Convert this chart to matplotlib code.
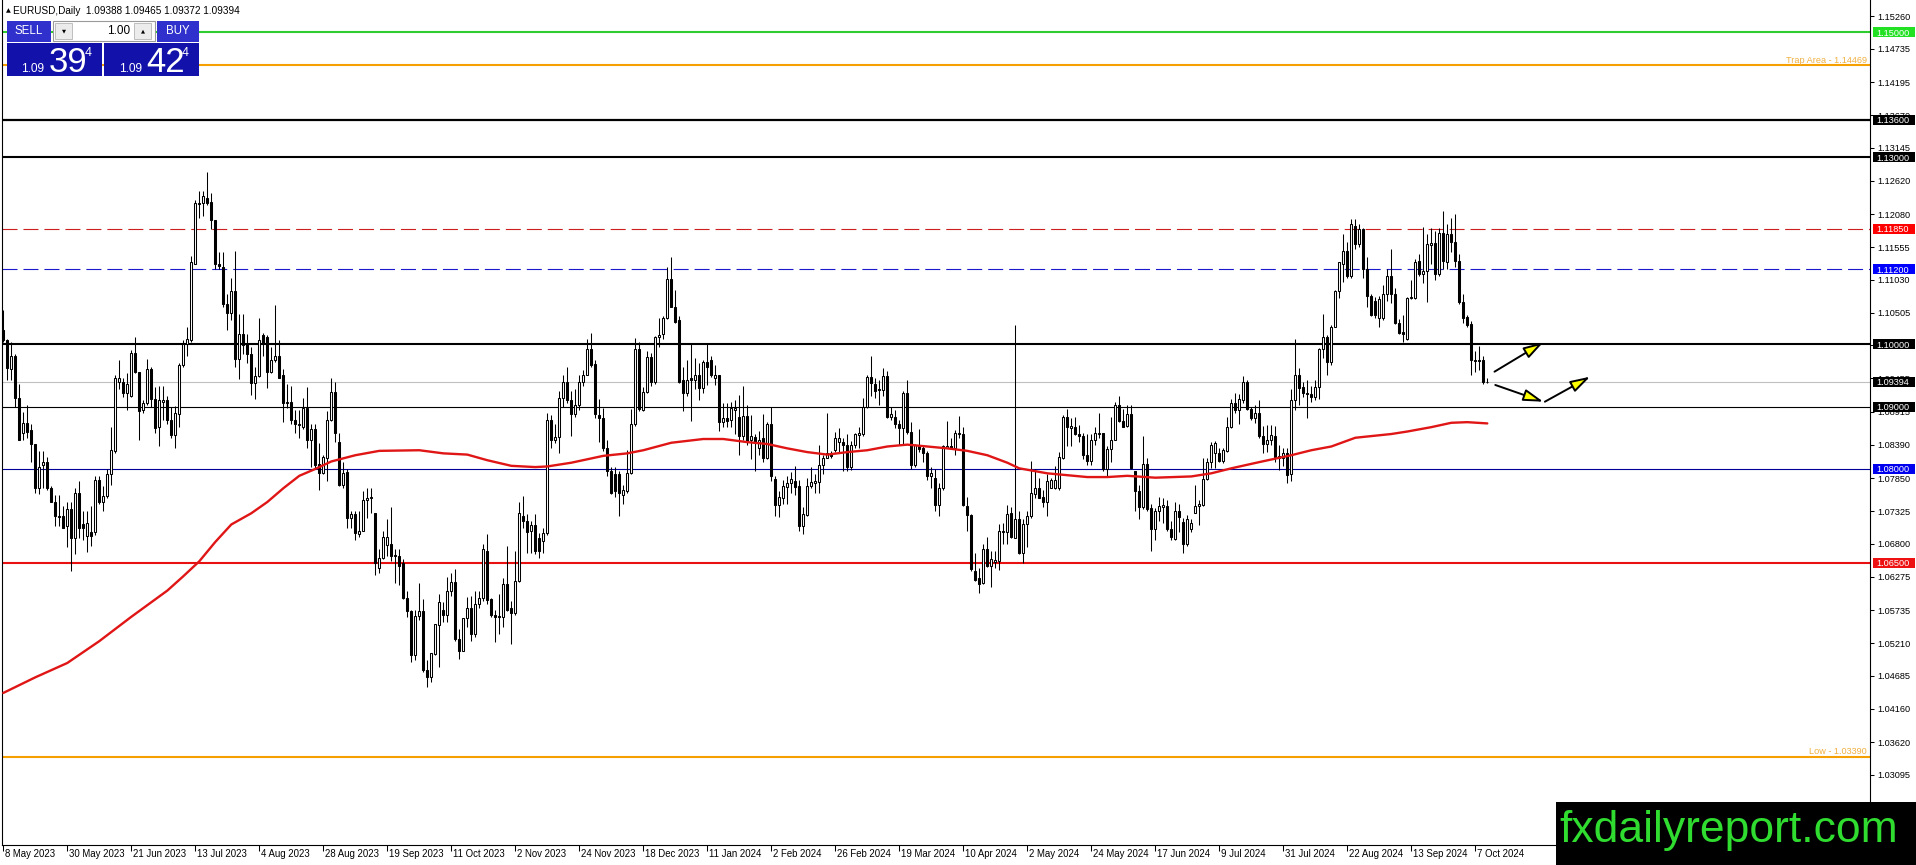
import numpy as np
import matplotlib
matplotlib.use('Agg')
import matplotlib.pyplot as plt
import matplotlib.transforms as mtransforms
from matplotlib.patches import Rectangle, FancyArrowPatch

plt.rcParams['font.family'] = ['Liberation Sans', 'DejaVu Sans']
plt.rcParams['lines.scale_dashes'] = False

# EURUSD daily candles (8 May 2023 -> 10 Oct 2024)
opens = [
    1.1023, 1.1006, 1.0961, 1.0981, 1.0914, 1.0858, 1.0873, 1.0862, 1.0840, 1.0769,
    1.0806, 1.0811, 1.0769, 1.0747, 1.0725, 1.0725, 1.0708, 1.0736, 1.0689, 1.0762,
    1.0712, 1.0693, 1.0699, 1.0699, 1.0783, 1.0747, 1.0757, 1.0792, 1.0828, 1.0939,
    1.0939, 1.0921, 1.0917, 1.0986, 1.0956, 1.0895, 1.0906, 1.0961, 1.0912, 1.0867,
    1.0908, 1.0911, 1.0878, 1.0854, 1.0888, 1.0966, 1.1001, 1.1006, 1.1129, 1.1224,
    1.1226, 1.1234, 1.1228, 1.1199, 1.1128, 1.1124, 1.1064, 1.1050, 1.1085, 1.0977,
    1.1017, 1.1000, 1.0984, 1.0938, 1.0949, 1.1014, 1.1011, 1.0955, 1.0974, 1.0981,
    1.0951, 1.0906, 1.0908, 1.0879, 1.0871, 1.0868, 1.0897, 1.0846, 1.0864, 1.0808,
    1.0794, 1.0817, 1.0879, 1.0923, 1.0843, 1.0775, 1.0795, 1.0722, 1.0728, 1.0695,
    1.0701, 1.0750, 1.0753, 1.0730, 1.0641, 1.0658, 1.0678, 1.0679, 1.0662, 1.0661,
    1.0649, 1.0593, 1.0573, 1.0502, 1.0565, 1.0573, 1.0477, 1.0466, 1.0504, 1.0550,
    1.0574, 1.0566, 1.0605, 1.0619, 1.0528, 1.0509, 1.0561, 1.0577, 1.0535, 1.0583,
    1.0593, 1.0669, 1.0591, 1.0566, 1.0565, 1.0562, 1.0616, 1.0577, 1.0569, 1.0621,
    1.0725, 1.0716, 1.0700, 1.0710, 1.0689, 1.0685, 1.0697, 1.0878, 1.0846, 1.0851,
    1.0914, 1.0939, 1.0911, 1.0888, 1.0903, 1.0939, 1.0951, 1.0992, 1.0968, 1.0886,
    1.0881, 1.0834, 1.0797, 1.0792, 1.0792, 1.0758, 1.0765, 1.0794, 1.0872, 1.0992,
    1.0895, 1.0923, 1.0979, 1.0939, 1.1011, 1.1017, 1.1042, 1.1105, 1.1060, 1.1038,
    1.0942, 1.0921, 1.0946, 1.0943, 1.0950, 1.0929, 1.0971, 1.0974, 1.0946, 1.0950,
    1.0875, 1.0882, 1.0879, 1.0895, 1.0883, 1.0853, 1.0885, 1.0846, 1.0851, 1.0833,
    1.0850, 1.0818, 1.0872, 1.0784, 1.0742, 1.0754, 1.0771, 1.0778, 1.0780, 1.0772,
    1.0708, 1.0726, 1.0772, 1.0777, 1.0779, 1.0806, 1.0818, 1.0825, 1.0830, 1.0844,
    1.0844, 1.0838, 1.0803, 1.0838, 1.0854, 1.0856, 1.0899, 1.0947, 1.0936, 1.0928,
    1.0927, 1.0949, 1.0884, 1.0884, 1.0872, 1.0866, 1.0921, 1.0860, 1.0807, 1.0839,
    1.0833, 1.0825, 1.0788, 1.0786, 1.0742, 1.0769, 1.0834, 1.0836, 1.0834, 1.0856,
    1.0856, 1.0741, 1.0726, 1.0636, 1.0625, 1.0617, 1.0672, 1.0644, 1.0651, 1.0652,
    1.0699, 1.0699, 1.0729, 1.0690, 1.0719, 1.0665, 1.0711, 1.0725, 1.0760, 1.0769,
    1.0755, 1.0747, 1.0769, 1.0769, 1.0769, 1.0818, 1.0883, 1.0866, 1.0868, 1.0856,
    1.0853, 1.0822, 1.0812, 1.0846, 1.0856, 1.0857, 1.0800, 1.0832, 1.0847, 1.0903,
    1.0877, 1.0869, 1.0888, 1.0797, 1.0764, 1.0739, 1.0808, 1.0738, 1.0703, 1.0733,
    1.0739, 1.0741, 1.0703, 1.0687, 1.0733, 1.0715, 1.0679, 1.0703, 1.0730, 1.0740,
    1.0743, 1.0784, 1.0811, 1.0825, 1.0825, 1.0812, 1.0828, 1.0867, 1.0906, 1.0895,
    1.0911, 1.0940, 1.0896, 1.0881, 1.0889, 1.0853, 1.0840, 1.0846, 1.0853, 1.0821,
    1.0818, 1.0825, 1.0792, 1.0911, 1.0951, 1.0931, 1.0921, 1.0920, 1.0916, 1.0931,
    1.0992, 1.1011, 1.0971, 1.1028, 1.1085, 1.1129, 1.1149, 1.1110, 1.1189, 1.1160,
    1.1184, 1.1120, 1.1077, 1.1070, 1.1042, 1.1042, 1.1081, 1.1109, 1.1081, 1.1034,
    1.1020, 1.1009, 1.1074, 1.1074, 1.1133, 1.1112, 1.1118, 1.1159, 1.1162, 1.1112,
    1.1178, 1.1131, 1.1177, 1.1163, 1.1134, 1.1067, 1.1044, 1.1033, 1.0975, 1.0975,
    1.0975, 1.09388,
]
highs = [
    1.1055, 1.1009, 1.1003, 1.0984, 1.0936, 1.0892, 1.0903, 1.0872, 1.0840, 1.0828,
    1.0828, 1.0819, 1.0772, 1.0758, 1.0758, 1.0741, 1.0747, 1.0747, 1.0769, 1.0780,
    1.0733, 1.0733, 1.0741, 1.0788, 1.0788, 1.0772, 1.0800, 1.0867, 1.0951, 1.0974,
    1.0946, 1.0953, 1.0990, 1.1011, 1.0956, 1.0911, 1.0977, 1.0964, 1.0931, 1.0933,
    1.0933, 1.0917, 1.0900, 1.0901, 1.0970, 1.1006, 1.1028, 1.1142, 1.1231, 1.1246,
    1.1246, 1.1276, 1.1242, 1.1199, 1.1148, 1.1148, 1.1081, 1.1106, 1.1149, 1.1048,
    1.1048, 1.1017, 1.0995, 1.0964, 1.1042, 1.1018, 1.1014, 1.0996, 1.1062, 1.1006,
    1.0961, 1.0936, 1.0933, 1.0895, 1.0895, 1.0914, 1.0931, 1.0872, 1.0872, 1.0842,
    1.0822, 1.0893, 1.0946, 1.0939, 1.0858, 1.0811, 1.0800, 1.0733, 1.0733, 1.0733,
    1.0764, 1.0769, 1.0769, 1.0730, 1.0672, 1.0700, 1.0719, 1.0739, 1.0672, 1.0672,
    1.0655, 1.0605, 1.0574, 1.0574, 1.0617, 1.0591, 1.0494, 1.0505, 1.0552, 1.0600,
    1.0586, 1.0627, 1.0634, 1.0639, 1.0544, 1.0561, 1.0594, 1.0597, 1.0605, 1.0605,
    1.0680, 1.0695, 1.0593, 1.0574, 1.0600, 1.0625, 1.0676, 1.0588, 1.0669, 1.0747,
    1.0756, 1.0728, 1.0716, 1.0728, 1.0697, 1.0705, 1.0889, 1.0886, 1.0872, 1.0925,
    1.0951, 1.0964, 1.0925, 1.0928, 1.0950, 1.0959, 1.1009, 1.1018, 1.0975, 1.0912,
    1.0897, 1.0847, 1.0803, 1.0803, 1.0797, 1.0775, 1.0830, 1.0896, 1.1010, 1.1003,
    1.0931, 1.0989, 1.0986, 1.1013, 1.1042, 1.1045, 1.1123, 1.1139, 1.1087, 1.1045,
    1.0964, 1.0974, 1.1000, 1.0978, 1.0970, 1.0974, 1.1000, 1.0981, 1.0967, 1.0950,
    1.0906, 1.0906, 1.0907, 1.0911, 1.0918, 1.0933, 1.0903, 1.0886, 1.0856, 1.0861,
    1.0888, 1.0875, 1.0899, 1.0789, 1.0764, 1.0783, 1.0789, 1.0795, 1.0805, 1.0783,
    1.0739, 1.0786, 1.0803, 1.0792, 1.0839, 1.0823, 1.0889, 1.0828, 1.0860, 1.0866,
    1.0850, 1.0856, 1.0845, 1.0858, 1.0867, 1.0914, 1.0950, 1.0981, 1.0945, 1.0942,
    1.0962, 1.0957, 1.0899, 1.0894, 1.0879, 1.0925, 1.0942, 1.0875, 1.0840, 1.0864,
    1.0839, 1.0828, 1.0803, 1.0800, 1.0778, 1.0838, 1.0877, 1.0850, 1.0862, 1.0885,
    1.0867, 1.0755, 1.0728, 1.0666, 1.0641, 1.0680, 1.0691, 1.0669, 1.0669, 1.0712,
    1.0714, 1.0742, 1.0739, 1.1031, 1.0733, 1.0719, 1.0733, 1.0812, 1.0800, 1.0786,
    1.0766, 1.0792, 1.0786, 1.0804, 1.0827, 1.0886, 1.0896, 1.0881, 1.0884, 1.0871,
    1.0858, 1.0856, 1.0856, 1.0867, 1.0889, 1.0858, 1.0836, 1.0883, 1.0908, 1.0917,
    1.0896, 1.0903, 1.0903, 1.0797, 1.0775, 1.0853, 1.0817, 1.0744, 1.0738, 1.0755,
    1.0753, 1.0750, 1.0716, 1.0747, 1.0744, 1.0722, 1.0726, 1.0719, 1.0775, 1.0750,
    1.0818, 1.0817, 1.0844, 1.0845, 1.0833, 1.0833, 1.0883, 1.0912, 1.0921, 1.0920,
    1.0949, 1.0943, 1.0900, 1.0903, 1.0911, 1.0869, 1.0871, 1.0871, 1.0869, 1.0839,
    1.0834, 1.0834, 1.0928, 1.1009, 1.0962, 1.0939, 1.0943, 1.0933, 1.0942, 1.0994,
    1.1048, 1.1014, 1.1031, 1.1087, 1.1131, 1.1176, 1.1163, 1.1201, 1.1201, 1.1192,
    1.1187, 1.1139, 1.1081, 1.1075, 1.1078, 1.1095, 1.1120, 1.1152, 1.1090, 1.1040,
    1.1046, 1.1075, 1.1103, 1.1137, 1.1145, 1.1188, 1.1176, 1.1187, 1.1181, 1.1187,
    1.1213, 1.1192, 1.1203, 1.1209, 1.1145, 1.1081, 1.1046, 1.1037, 1.0989, 1.0997,
    1.0981, 1.09465,
]
lows = [
    1.1003, 1.0942, 1.0942, 1.0900, 1.0847, 1.0847, 1.0850, 1.0811, 1.0762, 1.0760,
    1.0769, 1.0766, 1.0747, 1.0708, 1.0708, 1.0705, 1.0675, 1.0636, 1.0664, 1.0689,
    1.0686, 1.0667, 1.0677, 1.0694, 1.0744, 1.0733, 1.0753, 1.0775, 1.0825, 1.0928,
    1.0916, 1.0895, 1.0916, 1.0953, 1.0846, 1.0889, 1.0903, 1.0900, 1.0858, 1.0836,
    1.0878, 1.0872, 1.0850, 1.0834, 1.0867, 1.0964, 1.0981, 1.1003, 1.1128, 1.1203,
    1.1206, 1.1223, 1.1184, 1.1120, 1.1120, 1.1059, 1.1023, 1.1039, 1.0964, 1.0944,
    1.0984, 1.0970, 1.0918, 1.0912, 1.0947, 1.0981, 1.0929, 1.0953, 1.0972, 1.0945,
    1.0875, 1.0897, 1.0872, 1.0858, 1.0850, 1.0864, 1.0833, 1.0803, 1.0800, 1.0766,
    1.0792, 1.0780, 1.0877, 1.0843, 1.0772, 1.0769, 1.0706, 1.0705, 1.0686, 1.0691,
    1.0700, 1.0722, 1.0730, 1.0630, 1.0633, 1.0655, 1.0661, 1.0652, 1.0617, 1.0614,
    1.0591, 1.0563, 1.0491, 1.0494, 1.0558, 1.0474, 1.0450, 1.0458, 1.0502, 1.0483,
    1.0555, 1.0555, 1.0597, 1.0524, 1.0495, 1.0508, 1.0547, 1.0524, 1.0530, 1.0577,
    1.0588, 1.0583, 1.0563, 1.0523, 1.0535, 1.0547, 1.0572, 1.0519, 1.0566, 1.0619,
    1.0705, 1.0666, 1.0666, 1.0664, 1.0658, 1.0666, 1.0694, 1.0833, 1.0842, 1.0825,
    1.0900, 1.0906, 1.0853, 1.0883, 1.0895, 1.0933, 1.0950, 1.0964, 1.0881, 1.0843,
    1.0829, 1.0789, 1.0760, 1.0755, 1.0725, 1.0744, 1.0762, 1.0792, 1.0869, 1.0893,
    1.0893, 1.0922, 1.0933, 1.0936, 1.0996, 1.1009, 1.1040, 1.1059, 1.1034, 1.0938,
    1.0893, 1.0917, 1.0877, 1.0928, 1.0910, 1.0922, 1.0935, 1.0947, 1.0935, 1.0861,
    1.0867, 1.0868, 1.0867, 1.0856, 1.0822, 1.0846, 1.0838, 1.0816, 1.0797, 1.0822,
    1.0811, 1.0816, 1.0780, 1.0725, 1.0723, 1.0744, 1.0744, 1.0761, 1.0758, 1.0701,
    1.0695, 1.0725, 1.0769, 1.0761, 1.0762, 1.0792, 1.0817, 1.0818, 1.0827, 1.0827,
    1.0797, 1.0797, 1.0799, 1.0834, 1.0833, 1.0853, 1.0897, 1.0917, 1.0914, 1.0903,
    1.0917, 1.0882, 1.0879, 1.0866, 1.0839, 1.0839, 1.0856, 1.0800, 1.0803, 1.0827,
    1.0811, 1.0783, 1.0769, 1.0732, 1.0725, 1.0767, 1.0833, 1.0833, 1.0823, 1.0850,
    1.0741, 1.0700, 1.0636, 1.0621, 1.0601, 1.0615, 1.0643, 1.0611, 1.0641, 1.0638,
    1.0680, 1.0679, 1.0689, 1.0689, 1.0664, 1.0650, 1.0675, 1.0722, 1.0754, 1.0753,
    1.0739, 1.0725, 1.0769, 1.0768, 1.0767, 1.0816, 1.0836, 1.0836, 1.0854, 1.0843,
    1.0816, 1.0806, 1.0806, 1.0839, 1.0850, 1.0797, 1.0788, 1.0811, 1.0846, 1.0875,
    1.0868, 1.0868, 1.0800, 1.0733, 1.0719, 1.0736, 1.0733, 1.0669, 1.0686, 1.0716,
    1.0714, 1.0700, 1.0686, 1.0686, 1.0699, 1.0666, 1.0676, 1.0699, 1.0729, 1.0710,
    1.0741, 1.0783, 1.0801, 1.0801, 1.0811, 1.0810, 1.0827, 1.0866, 1.0890, 1.0872,
    1.0906, 1.0895, 1.0878, 1.0873, 1.0850, 1.0825, 1.0827, 1.0839, 1.0811, 1.0799,
    1.0804, 1.0778, 1.0780, 1.0895, 1.0903, 1.0916, 1.0881, 1.0908, 1.0911, 1.0912,
    1.0978, 1.0950, 1.0967, 1.1027, 1.1074, 1.1099, 1.1106, 1.1106, 1.1153, 1.1156,
    1.1106, 1.1059, 1.1045, 1.1042, 1.1027, 1.1039, 1.1070, 1.1066, 1.1033, 1.1017,
    1.1003, 1.1006, 1.1073, 1.1073, 1.1109, 1.1098, 1.1068, 1.1128, 1.1103, 1.1109,
    1.1120, 1.1120, 1.1148, 1.1123, 1.1064, 1.1034, 1.1028, 1.0951, 1.0956, 1.0959,
    1.0936, 1.09372,
]
closes = [
    1.1006, 1.0962, 1.0981, 1.0914, 1.0847, 1.0873, 1.0860, 1.0840, 1.0769, 1.0803,
    1.0811, 1.0769, 1.0747, 1.0725, 1.0723, 1.0705, 1.0736, 1.0689, 1.0761, 1.0706,
    1.0706, 1.0714, 1.0693, 1.0783, 1.0747, 1.0757, 1.0792, 1.0831, 1.0945, 1.0945,
    1.0921, 1.0936, 1.0986, 1.0955, 1.0893, 1.0906, 1.0961, 1.0912, 1.0866, 1.0911,
    1.0911, 1.0878, 1.0854, 1.0889, 1.0967, 1.1001, 1.1009, 1.1131, 1.1226, 1.1226,
    1.1237, 1.1227, 1.1199, 1.1128, 1.1125, 1.1064, 1.1050, 1.1085, 1.0977, 1.1017,
    1.0999, 1.0984, 1.0938, 1.0949, 1.1006, 1.1001, 1.0955, 1.0974, 1.0981, 1.0946,
    1.0906, 1.0908, 1.0879, 1.0872, 1.0872, 1.0897, 1.0846, 1.0864, 1.0806, 1.0794,
    1.0819, 1.0879, 1.0923, 1.0858, 1.0775, 1.0794, 1.0722, 1.0728, 1.0697, 1.0701,
    1.0750, 1.0754, 1.0755, 1.0650, 1.0658, 1.0691, 1.0691, 1.0661, 1.0661, 1.0644,
    1.0593, 1.0572, 1.0502, 1.0565, 1.0572, 1.0477, 1.0466, 1.0505, 1.0551, 1.0586,
    1.0566, 1.0605, 1.0619, 1.0527, 1.0509, 1.0561, 1.0577, 1.0535, 1.0583, 1.0593,
    1.0672, 1.0590, 1.0566, 1.0562, 1.0562, 1.0616, 1.0574, 1.0569, 1.0621, 1.0730,
    1.0716, 1.0699, 1.0710, 1.0669, 1.0669, 1.0697, 1.0878, 1.0847, 1.0851, 1.0914,
    1.0939, 1.0911, 1.0888, 1.0903, 1.0939, 1.0951, 1.0992, 1.0967, 1.0888, 1.0882,
    1.0834, 1.0797, 1.0762, 1.0764, 1.0762, 1.0767, 1.0794, 1.0872, 1.0992, 1.0896,
    1.0923, 1.0979, 1.0939, 1.1011, 1.1014, 1.1042, 1.1105, 1.1060, 1.1036, 1.0940,
    1.0921, 1.0943, 1.0942, 1.0950, 1.0929, 1.0971, 1.0964, 1.0950, 1.0950, 1.0875,
    1.0882, 1.0877, 1.0897, 1.0897, 1.0853, 1.0885, 1.0845, 1.0853, 1.0842, 1.0846,
    1.0818, 1.0872, 1.0788, 1.0742, 1.0755, 1.0772, 1.0778, 1.0784, 1.0771, 1.0708,
    1.0728, 1.0772, 1.0779, 1.0780, 1.0806, 1.0818, 1.0825, 1.0821, 1.0850, 1.0850,
    1.0838, 1.0803, 1.0838, 1.0856, 1.0857, 1.0899, 1.0947, 1.0938, 1.0925, 1.0927,
    1.0949, 1.0884, 1.0888, 1.0872, 1.0866, 1.0922, 1.0860, 1.0806, 1.0839, 1.0832,
    1.0825, 1.0789, 1.0793, 1.0742, 1.0769, 1.0836, 1.0836, 1.0833, 1.0858, 1.0858,
    1.0743, 1.0726, 1.0639, 1.0622, 1.0616, 1.0672, 1.0644, 1.0655, 1.0654, 1.0701,
    1.0701, 1.0728, 1.0691, 1.0719, 1.0665, 1.0712, 1.0725, 1.0761, 1.0769, 1.0754,
    1.0747, 1.0780, 1.0782, 1.0783, 1.0819, 1.0883, 1.0867, 1.0869, 1.0856, 1.0853,
    1.0822, 1.0812, 1.0847, 1.0858, 1.0858, 1.0800, 1.0832, 1.0847, 1.0903, 1.0877,
    1.0868, 1.0888, 1.0801, 1.0764, 1.0739, 1.0808, 1.0736, 1.0703, 1.0733, 1.0740,
    1.0743, 1.0703, 1.0691, 1.0733, 1.0723, 1.0679, 1.0719, 1.0714, 1.0740, 1.0744,
    1.0784, 1.0811, 1.0839, 1.0842, 1.0812, 1.0830, 1.0867, 1.0906, 1.0895, 1.0912,
    1.0939, 1.0896, 1.0881, 1.0889, 1.0853, 1.0840, 1.0846, 1.0854, 1.0819, 1.0818,
    1.0825, 1.0790, 1.0911, 1.0951, 1.0929, 1.0921, 1.0920, 1.0916, 1.0931, 1.0992,
    1.1011, 1.0971, 1.1028, 1.1085, 1.1131, 1.1149, 1.1109, 1.1192, 1.1160, 1.1184,
    1.1120, 1.1077, 1.1046, 1.1046, 1.1072, 1.1081, 1.1109, 1.1081, 1.1034, 1.1018,
    1.1017, 1.1074, 1.1075, 1.1131, 1.1112, 1.1118, 1.1160, 1.1162, 1.1112, 1.1178,
    1.1133, 1.1176, 1.1163, 1.1134, 1.1067, 1.1042, 1.1031, 1.0975, 1.0973, 1.0973,
    1.0939, 1.09394,
]

# 200 day moving average (sampled along the red curve)
ma_bars = [0, 8, 16, 24, 32, 41, 45, 49, 53, 57, 62, 66, 70, 74, 78, 82, 88, 94, 104,
           110, 116, 121, 127, 133, 136, 142, 150, 156, 160, 167, 175, 180, 186, 191,
           196, 201, 206, 211, 216, 221, 226, 231, 236, 241, 246, 251, 254, 261, 266,
           271, 276, 281, 288, 297, 302, 307, 314, 322, 327, 332, 338, 347, 351, 357,
           362, 366, 371]
ma_vals = [1.0441, 1.0466, 1.0489, 1.0524, 1.0563, 1.0605, 1.0628, 1.0652, 1.0683, 1.0711,
           1.0729, 1.0747, 1.0769, 1.0789, 1.0800, 1.0812, 1.0822, 1.0829, 1.0830, 1.0825,
           1.0823, 1.0814, 1.0805, 1.0803, 1.0804, 1.0810, 1.0821, 1.0825, 1.0830, 1.0842,
           1.0848, 1.0848, 1.0843, 1.0840, 1.0833, 1.0827, 1.0823, 1.0827, 1.0830, 1.0836,
           1.0839, 1.0836, 1.0833, 1.0829, 1.0822, 1.0810, 1.0801, 1.0793, 1.0790, 1.0787,
           1.0787, 1.0789, 1.0786, 1.0788, 1.0793, 1.0801, 1.0811, 1.0822, 1.0830, 1.0836,
           1.0850, 1.0856, 1.0860, 1.0867, 1.0874, 1.0875, 1.0873]

date_labels = ['8 May 2023', '30 May 2023', '21 Jun 2023', '13 Jul 2023', '4 Aug 2023',
               '28 Aug 2023', '19 Sep 2023', '11 Oct 2023', '2 Nov 2023', '24 Nov 2023',
               '18 Dec 2023', '11 Jan 2024', '2 Feb 2024', '26 Feb 2024', '19 Mar 2024',
               '10 Apr 2024', '2 May 2024', '24 May 2024', '17 Jun 2024', '9 Jul 2024',
               '31 Jul 2024', '22 Aug 2024', '13 Sep 2024', '7 Oct 2024']
bars_per_label = 16

price_ticks = [1.15260, 1.14735, 1.14195, 1.13670, 1.13145, 1.12620, 1.12080, 1.11555,
               1.11030, 1.10505, 1.09980, 1.09455, 1.08915, 1.08390, 1.07850, 1.07325,
               1.06800, 1.06275, 1.05735, 1.05210, 1.04685, 1.04160, 1.03620, 1.03095,
               1.02570]

# horizontal levels drawn on the chart
level_prices = [1.15000, 1.14469, 1.13600, 1.13000, 1.11850, 1.11200, 1.10000,
                1.09394, 1.09000, 1.08000, 1.06500, 1.03390]
trap_area = 1.14469
low_level = 1.03390
boxed_prices = [1.15000, 1.13600, 1.13000, 1.11850, 1.11200, 1.10000, 1.09394,
                1.09000, 1.08000, 1.06500]

# scenario arrows (bar index, price)
arrow_from = [(372.8, 1.09559), (373.0, 1.09346), (385.4, 1.09078)]
arrow_to = [(385.0, 1.10030), (385.0, 1.09078), (396.7, 1.09479)]

bid = dict(o=1.09388, h=1.09465, l=1.09372, c=1.09394)

# ---------------------------------------------------------------
W, H = 1916, 865
fig = plt.figure(figsize=(W / 100, H / 100), dpi=100)
fig.patch.set_facecolor('white')

ax = fig.add_axes([2 / W, 20 / H, 1868 / W, 845 / H])
ax.set_xlim(-0.325, 466.675)
ax.set_ylim(1.019726, 1.155165)
for s in ['left', 'right', 'bottom']:
    ax.spines[s].set_linewidth(0.8)
    ax.spines[s].set_color('black')
ax.spines['top'].set_visible(False)

# right price scale
ax.yaxis.tick_right()
ax.set_yticks(price_ticks)
ax.set_yticklabels([f'{p:.5f}' for p in price_ticks])
ax.tick_params(axis='y', which='both', left=False, right=True, labelleft=False,
               labelright=True, length=3, width=0.75, pad=2, labelsize=6.6)
ax.set_xticks([k * bars_per_label for k in range(len(date_labels))])
ax.tick_params(axis='x', length=4, width=0.75, labelbottom=False)

date_tr = mtransforms.offset_copy(
    mtransforms.blended_transform_factory(ax.transData, ax.transAxes),
    fig=fig, x=2, y=0, units='dots')
for k, lab in enumerate(date_labels):
    ax.text(k * bars_per_label, -9 / 845, lab, transform=date_tr, ha='left',
            va='center', fontsize=6.9, clip_on=False)

# levels
level_style = {
    1.15000: dict(color='#2ecc2e', lw=1.5, ls='-'),
    1.14469: dict(color='#f5a000', lw=1.5, ls='-'),
    1.13600: dict(color='black', lw=1.6, ls='-'),
    1.13000: dict(color='black', lw=1.5, ls='-'),
    1.11850: dict(color='#cc2020', lw=0.8, ls=(0, (10.8, 4.3))),
    1.11200: dict(color='#1a1acc', lw=0.8, ls=(0, (10.8, 4.3))),
    1.10000: dict(color='black', lw=1.5, ls='-'),
    1.09394: dict(color='#c0c0c0', lw=0.8, ls='-'),
    1.09000: dict(color='black', lw=0.8, ls='-'),
    1.08000: dict(color='#000099', lw=0.8, ls='-'),
    1.06500: dict(color='#e81010', lw=1.5, ls='-'),
    1.03390: dict(color='#f5a000', lw=1.5, ls='-'),
}
for p in level_prices:
    st = level_style[p]
    ax.axhline(p, color=st['color'], lw=st['lw'], ls=st['ls'], zorder=1)

lvl_tr = mtransforms.blended_transform_factory(ax.transAxes, ax.transData)
ax.text(0.9985, trap_area + 0.0001, f'Trap Area - {trap_area:.5f}', transform=lvl_tr,
        ha='right', va='bottom', fontsize=6.6, color='#f0b040')
ax.text(0.9985, low_level + 0.0001, f'Low - {low_level:.5f}', transform=lvl_tr,
        ha='right', va='bottom', fontsize=6.6, color='#f0b040')

# candles
x = np.arange(len(closes))
o = np.array(opens)
c = np.array(closes)
up = c >= o
ax.vlines(x, lows, highs, color='black', lw=0.75, zorder=3)
ax.bar(x[up], (c - o)[up], bottom=o[up], width=0.5, color='white',
       edgecolor='black', linewidth=0.75, zorder=4)
ax.bar(x[~up], (c - o)[~up], bottom=o[~up], width=0.5, color='black',
       edgecolor='black', linewidth=0.75, zorder=4)

# moving average
ax.plot(ma_bars, ma_vals, color='#e01515', lw=1.7, zorder=5,
        solid_capstyle='round', solid_joinstyle='round')

# arrows
for (x0, y0), (x1, y1) in zip(arrow_from, arrow_to):
    ax.add_patch(FancyArrowPatch((x0, y0), (x1, y1),
                                 arrowstyle='-|>,head_length=12,head_width=3.6',
                                 mutation_scale=1, shrinkA=0, shrinkB=0,
                                 lw=1.4, edgecolor='black', facecolor='#ffff00',
                                 zorder=6))

# price boxes on the right scale
box_color = {1.15000: '#22e022', 1.13600: 'black', 1.13000: 'black', 1.11850: '#ff0000',
             1.11200: '#0000ff', 1.10000: 'black', 1.09394: 'black', 1.09000: 'black',
             1.08000: '#0000ee', 1.06500: '#ee1111'}
bh = 10 / 6239
for p in boxed_prices:
    ax.add_patch(Rectangle((1870.5 / 1868, p - bh / 2), 42 / 1868, bh,
                           transform=lvl_tr, facecolor=box_color[p], edgecolor='none',
                           clip_on=False, zorder=7))
    ax.text(1874.5 / 1868, p, f'{p:.5f}', transform=lvl_tr,
            ha='left', va='center_baseline', fontsize=6.6, color='white',
            clip_on=False, zorder=8)

# ---------------------------------------------------------------
# overlay in pixel coordinates: header, trade panel, watermark
ov = fig.add_axes([0, 0, 1, 1], zorder=10)
ov.set_xlim(0, W)
ov.set_ylim(H, 0)
ov.axis('off')
ov.patch.set_alpha(0)

ov.text(6, 10.5, '▲', fontsize=4.5, ha='left', va='center', family='DejaVu Sans')
ov.text(13, 10.5, f"EURUSD,Daily  {bid['o']:.5f} {bid['h']:.5f} {bid['l']:.5f} {bid['c']:.5f}",
        fontsize=7.2, ha='left', va='center')

panel_top = '#3030cc'
panel_bot = '#1212aa'
ov.add_patch(Rectangle((7, 21), 44, 21, facecolor=panel_top, edgecolor='none'))
ov.add_patch(Rectangle((157, 21), 42, 21, facecolor=panel_top, edgecolor='none'))
ov.add_patch(Rectangle((53, 21), 102, 20, facecolor='white', edgecolor='#9a9a9a', lw=0.8))
ov.add_patch(Rectangle((55, 23), 17, 16, facecolor='#ececec', edgecolor='#b5b5b5', lw=0.6))
ov.add_patch(Rectangle((134, 23), 17, 16, facecolor='#ececec', edgecolor='#b5b5b5', lw=0.6))
ov.text(63.5, 31, '▼', fontsize=3.8, ha='center', va='center', family='DejaVu Sans')
ov.text(142.5, 31, '▲', fontsize=3.8, ha='center', va='center', family='DejaVu Sans')
ov.text(130, 31, '1.00', fontsize=8.5, ha='right', va='center')
ov.text(29, 31.5, 'SELL', fontsize=8.3, ha='center', va='center', color='white')
ov.text(178, 31.5, 'BUY', fontsize=8.3, ha='center', va='center', color='white')
ov.add_patch(Rectangle((7, 43), 95, 33, facecolor=panel_bot, edgecolor='none'))
ov.add_patch(Rectangle((104, 43), 95, 33, facecolor=panel_bot, edgecolor='none'))
ov.text(21, 72.5, '1.09', fontsize=8.6, ha='left', va='baseline', color='white')
ov.text(49, 72, '39', fontsize=25, ha='left', va='baseline', color='white')
ov.text(85, 47, '4', fontsize=9, ha='left', va='top', color='white')
ov.text(119, 72.5, '1.09', fontsize=8.6, ha='left', va='baseline', color='white')
ov.text(146, 72, '42', fontsize=25, ha='left', va='baseline', color='white')
ov.text(182, 47, '4', fontsize=9, ha='left', va='top', color='white')

ov.add_patch(Rectangle((1556, 802), W - 1556, H - 802, facecolor='black', edgecolor='none'))
ov.text(1898, 842, 'fxdailyreport.com', fontsize=32, ha='right', va='baseline',
        color='#2fdc2f')

fig.savefig('out.png', dpi=100, facecolor='white')
